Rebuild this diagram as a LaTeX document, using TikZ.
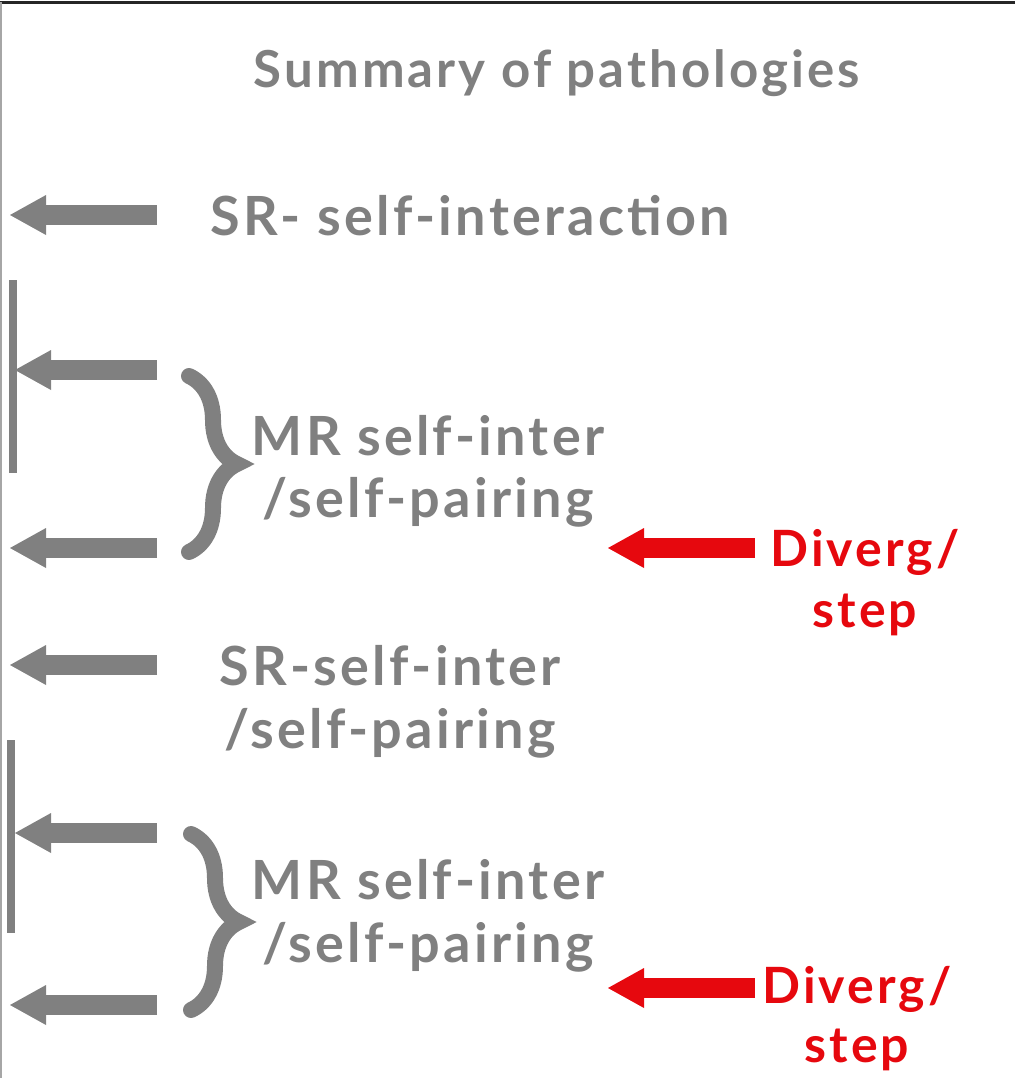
\documentclass[tikz,border=0pt]{standalone}
\usepackage{fontspec}
\setmainfont{Lato}[LetterSpace=6]
\usetikzlibrary{arrows.meta,decorations.pathreplacing}
\definecolor{slidegray}{RGB}{128,128,128}
\definecolor{slidered}{RGB}{230,8,14}

\begin{document}
\begin{tikzpicture}[x=1pt,y=-1pt,
		grayarrow/.style={draw=slidegray,line width=20pt,-{Triangle[width=40pt,length=36pt,line width=0pt]}},
		redarrow/.style={grayarrow,draw=slidered},
		sidebar/.style={draw=slidegray,line width=8pt},
		bigbrace/.style={draw=slidegray,line width=16pt,line cap=round,decorate,decoration={brace,amplitude=48pt}},
		graytext/.style={text=slidegray,font=\fontsize{54}{64}\selectfont\bfseries,anchor=base,inner sep=0pt},
		redtext/.style={text=slidered,font=\fontsize{50}{60}\selectfont\bfseries,anchor=base,inner sep=0pt}]
			\useasboundingbox (0,0) rectangle (1015,1078);
			% frame
			\draw[black!85,line width=3pt] (0,2.5) -- (1015,2.5);
			\draw[black!35,line width=1.5pt] (1,2.5) -- (1,1078);
			\coordinate (a1_tail) at (157,215);
			\coordinate (a1_tip) at (10,215);
			\coordinate (a2_tail) at (157,370);
			\coordinate (a2_tip) at (15,370);
			\coordinate (a3_tail) at (157,548);
			\coordinate (a3_tip) at (10,548);
			\coordinate (a4_tail) at (157,665);
			\coordinate (a4_tip) at (10,665);
			\coordinate (a5_tail) at (157,833);
			\coordinate (a5_tip) at (15,833);
			\coordinate (a6_tail) at (157,1005);
			\coordinate (a6_tip) at (10,1005);
			\coordinate (bar1_top) at (13,280);
			\coordinate (bar1_bot) at (13,473);
			\coordinate (bar2_top) at (11,740);
			\coordinate (bar2_bot) at (11,933);
			\coordinate (br1_top) at (189,376);
			\coordinate (br1_bot) at (189,552);
			\coordinate (br2_top) at (191,834);
			\coordinate (br2_bot) at (191,1010);
			\coordinate (r1_tail) at (755,548);
			\coordinate (r1_tip) at (608,548);
			\coordinate (r2_tail) at (755,988);
			\coordinate (r2_tip) at (608,988);
			\node[graytext,font=\fontsize{51}{60}\selectfont\bfseries] (title) at (557,88) {Summary of pathologies};
			\node[graytext] (sr_a) at (470,235) {SR- self-interaction};
			\node[graytext] (mr1_a) at (428,455) {MR self-inter};
			\node[graytext] (mr1_b) at (428,517) {/self-pairing};
			\node[graytext] (sr2_a) at (390,685) {SR-self-inter};
			\node[graytext] (sr2_b) at (390,748) {/self-pairing};
			\node[graytext] (mr2_a) at (428,899) {MR self-inter};
			\node[graytext] (mr2_b) at (428,962) {/self-pairing};
			\node[redtext] (div1_a) at (865,566) {Diverg/};
			\node[redtext] (div1_b) at (865,627) {step};
			\node[redtext] (div2_a) at (857,1003) {Diverg/};
			\node[redtext] (div2_b) at (857,1062) {step};
			\draw[sidebar] (bar1_top) -- (bar1_bot);
			\draw[sidebar] (bar2_top) -- (bar2_bot);
			\draw[grayarrow] (a1_tail) -- (a1_tip);
			\draw[grayarrow] (a2_tail) -- (a2_tip);
			\draw[grayarrow] (a3_tail) -- (a3_tip);
			\draw[grayarrow] (a4_tail) -- (a4_tip);
			\draw[grayarrow] (a5_tail) -- (a5_tip);
			\draw[grayarrow] (a6_tail) -- (a6_tip);
			\draw[bigbrace] (br1_top) -- (br1_bot);
			\draw[bigbrace] (br2_top) -- (br2_bot);
			\draw[redarrow] (r1_tail) -- (r1_tip);
			\draw[redarrow] (r2_tail) -- (r2_tip);
		\end{tikzpicture}
\end{document}
